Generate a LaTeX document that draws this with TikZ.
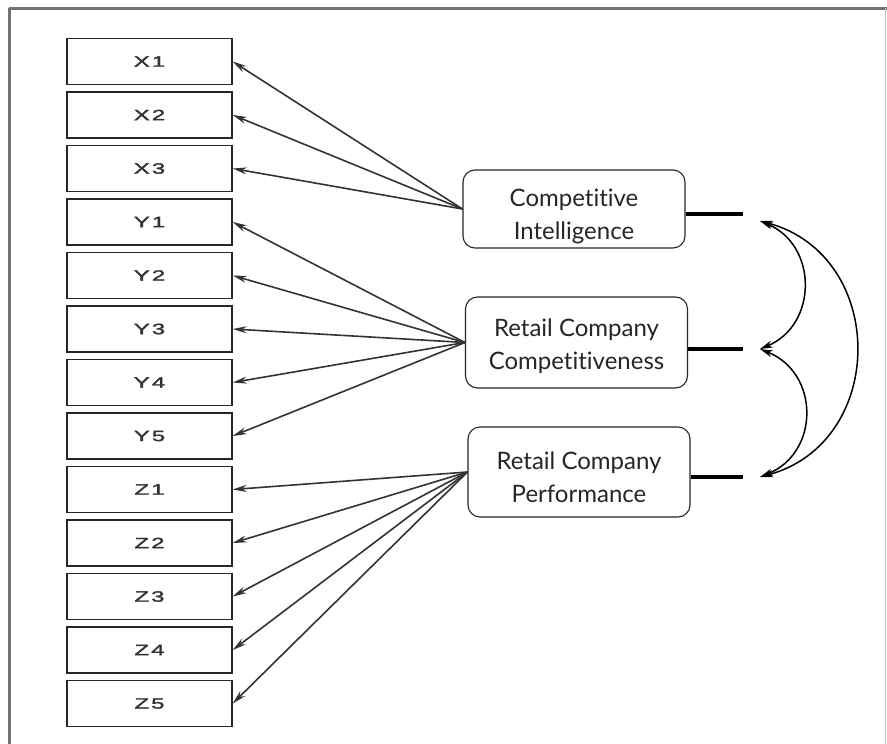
\documentclass[tikz,border=0pt]{standalone}
\usepackage{fontspec}
\setmainfont[Ligatures=NoCommon]{Lato}
\newfontfamily\boxfont[FakeStretch=1.6,LetterSpace=14,FakeBold=2]{Liberation Sans}
\usetikzlibrary{arrows.meta}
\tikzset{
  obsbox/.style={draw=black!85, line width=1.4pt, minimum width=165pt, minimum height=46pt, inner sep=0pt, font=\boxfont\fontsize{15}{17}\selectfont, text=black!80},
  latbox/.style={draw=black!85, line width=1.1pt, rounded corners=12pt, minimum width=222pt, inner sep=0pt},
  lattext/.style={inner sep=0pt, align=center, font=\fontsize{24}{33}\selectfont, text=black!85},
  load/.style={line width=1.6pt, draw=black!80, -{Stealth[length=14pt,width=7pt]}},
  stub/.style={line width=3.2pt},
  cov/.style={line width=1.5pt, {Stealth[length=13pt,width=7pt]}-{Stealth[length=13pt,width=7pt]}}
}
\begin{document}
\begin{tikzpicture}[x=1pt,y=-1pt]
\useasboundingbox (0,0) rectangle (887,744);
\fill[white] (0,0) rectangle (887,744);
% frame
\draw[black!55, line width=3pt] (9,8) -- (887,8);
\draw[black!55, line width=3pt] (9,8) -- (9,744);
\draw[black!25, line width=1pt] (885,8) -- (885,744);
% observed
\foreach \n/\lab/\y in {x1/X1/61.5, x2/X2/115, x3/X3/168.5, y1/Y1/222, y2/Y2/275.5, y3/Y3/329, y4/Y4/382.5, y5/Y5/436, z1/Z1/489.5, z2/Z2/543, z3/Z3/596.5, z4/Z4/650, z5/Z5/703.5}
  \node[obsbox] (\n) at (149.5,\y) {\lab};
% latent
\node[latbox, minimum height=78pt] (ci) at (574,209) {};
\node[latbox, minimum height=91pt] (rcc) at (576.5,342.5) {};
\node[latbox, minimum height=90pt] (rcp) at (579,472) {};
\node[lattext] (citxt) at ([yshift=-7pt]ci.center) {Competitive\\Intelligence};
\node[lattext] (rcctxt) at ([yshift=-4pt]rcc.center) {Retail Company\\Competitiveness};
\node[lattext] (rcptxt) at ([yshift=-5pt]rcp.center) {Retail Company\\Performance};
% loadings
\foreach \t in {x1,x2,x3} \draw[load] (ci.west) -- (\t.east);
\foreach \t in {y1,y2,y3,y4,y5} \draw[load] (rcc.west) -- (\t.east);
\foreach \t in {z1,z2,z3,z4,z5} \draw[load] (rcp.west) -- (\t.east);
% stubs
\coordinate (ciS) at (743,214);
\coordinate (rccS) at (743,349);
\coordinate (rcpS) at (743,477);
\draw[stub] (ci.east |- ciS) -- (ciS);
\draw[stub] (rcc.east |- rccS) -- (rccS);
\draw[stub] (rcp.east |- rcpS) -- (rcpS);
% covariances
\coordinate (ciE) at (760,221);
\coordinate (rccE) at (760,349);
\coordinate (rcpE) at (760,477);
\draw[cov] (ciE) .. controls (818,245) and (818,325) .. (rccE);
\draw[cov] (rccE) .. controls (820,373) and (820,453) .. (rcpE);
\draw[cov] (ciE) .. controls (888,255) and (888,443) .. (rcpE);
\end{tikzpicture}
\end{document}
